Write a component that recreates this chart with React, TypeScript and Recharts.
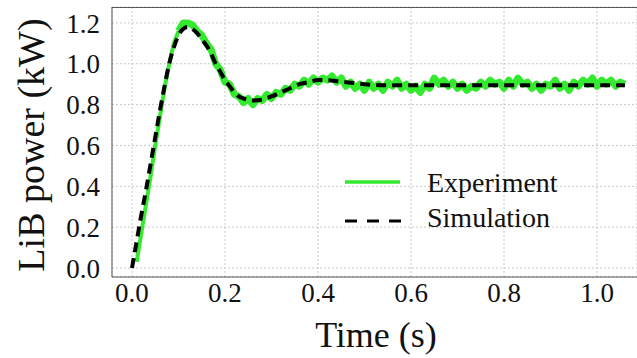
import React from 'react';
import { LineChart, Line, XAxis, YAxis, CartesianGrid } from 'recharts';

const xTicks = [0, 0.2, 0.4, 0.6, 0.8, 1.0];
const yTicks = [0, 0.2, 0.4, 0.6, 0.8, 1.0, 1.2];

const simTime = [
  0, 0.01, 0.02, 0.03, 0.04, 0.05, 0.06, 0.07, 0.08, 0.09, 0.1, 0.11, 0.12, 0.13, 0.14, 0.15, 0.16, 0.17,
  0.18, 0.19, 0.2, 0.21, 0.22, 0.23, 0.24, 0.26, 0.28, 0.3, 0.32, 0.34, 0.36, 0.38, 0.4, 0.42, 0.44, 0.46,
  0.48, 0.5, 0.55, 0.6, 0.65, 0.7, 0.75, 0.8, 0.85, 0.9, 0.95, 1.0, 1.06,
];
const simPower = [
  0, 0.13, 0.26, 0.38, 0.51, 0.64, 0.77, 0.89, 1.0, 1.08, 1.14, 1.17, 1.18, 1.17, 1.15, 1.12, 1.09, 1.05,
  1.0, 0.96, 0.92, 0.89, 0.86, 0.84, 0.83, 0.82, 0.825, 0.84, 0.86, 0.88, 0.9, 0.91, 0.92, 0.92, 0.915, 0.91,
  0.905, 0.9, 0.895, 0.895, 0.895, 0.895, 0.895, 0.895, 0.895, 0.895, 0.895, 0.895, 0.895,
];

const expTime = [
  0.01, 0.02, 0.03, 0.04, 0.05, 0.06, 0.07, 0.08, 0.09, 0.1, 0.11, 0.12, 0.13, 0.14, 0.15, 0.16, 0.17, 0.18,
  0.19, 0.2, 0.21, 0.22, 0.23, 0.24, 0.25, 0.26, 0.27, 0.28, 0.29, 0.3, 0.31, 0.32, 0.33, 0.34, 0.35, 0.36,
  0.37, 0.38, 0.39, 0.4, 0.41, 0.42, 0.43, 0.44, 0.45, 0.46, 0.47, 0.48, 0.49, 0.5, 0.51, 0.52, 0.53, 0.54,
  0.55, 0.56, 0.57, 0.58, 0.59, 0.6, 0.61, 0.62, 0.63, 0.64, 0.65, 0.66, 0.67, 0.68, 0.69, 0.7, 0.71, 0.72,
  0.73, 0.74, 0.75, 0.76, 0.77, 0.78, 0.79, 0.8, 0.81, 0.82, 0.83, 0.84, 0.85, 0.86, 0.87, 0.88, 0.89, 0.9,
  0.91, 0.92, 0.93, 0.94, 0.95, 0.96, 0.97, 0.98, 0.99, 1.0, 1.01, 1.02, 1.03, 1.04, 1.05, 1.06,
];
const expPower = [
  0.03, 0.17, 0.31, 0.45, 0.6, 0.74, 0.88, 1.0, 1.1, 1.16, 1.2, 1.2, 1.19, 1.16, 1.14, 1.1, 1.07, 1.0,
  0.97, 0.91, 0.9, 0.85, 0.84, 0.81, 0.83, 0.8, 0.83, 0.82, 0.85, 0.83, 0.86, 0.85, 0.88, 0.87, 0.9, 0.89,
  0.92, 0.9, 0.93, 0.91, 0.93, 0.92, 0.94, 0.91, 0.93, 0.89, 0.91, 0.88, 0.9, 0.87, 0.91, 0.88, 0.9, 0.87,
  0.91, 0.89, 0.92, 0.88, 0.9, 0.87, 0.89, 0.86, 0.9, 0.88, 0.93, 0.9, 0.92, 0.89, 0.91, 0.88, 0.9, 0.87,
  0.89, 0.88, 0.91, 0.89, 0.92, 0.9, 0.91, 0.88, 0.92, 0.89, 0.93, 0.9, 0.91, 0.88, 0.9, 0.87, 0.9, 0.89,
  0.92, 0.88, 0.9, 0.87, 0.91, 0.89, 0.92, 0.9, 0.93, 0.89, 0.92, 0.9, 0.92, 0.89, 0.91, 0.9,
];

const simData = simTime.map((t, i) => ({ t, v: simPower[i] }));
const expData = expTime.map((t, i) => ({ t, v: expPower[i] }));
// rise part is clean, the rest is noisy (drawn thicker)
const expRise = expData.slice(0, 10);
const expNoisy = expData.slice(9);

const X_MIN = -0.043;
const X_MAX = 1.086;
const Y_MIN = -0.044;
const Y_MAX = 1.278;

const font = "'Liberation Serif', 'Times New Roman', serif";
const green = '#33ea2e';
const tickFont = { fill: '#111', fontSize: 27, fontFamily: font };

export default function App() {
  return (
    <div
      style={{
        position: 'absolute', left: 0, top: 0, width: 637, height: 358, background: '#fff',
        fontFamily: font, fontSize: 27,
      }}
    >
      <LineChart width={637} height={358} margin={{ top: 7, right: 0, left: 0, bottom: 0 }}>
        <CartesianGrid stroke="#c8c8c8" strokeDasharray="2 2" />
        <XAxis
          type="number"
          dataKey="t"
          domain={[X_MIN, X_MAX]}
          ticks={xTicks}
          allowDataOverflow
          height={81}
          tickLine={false}
          tickMargin={0}
          stroke="#555"
          tick={tickFont}
          tickFormatter={(v: number) => v.toFixed(1)}
        />
        <YAxis
          type="number"
          domain={[Y_MIN, Y_MAX]}
          ticks={yTicks}
          allowDataOverflow
          width={112}
          tickLine={false}
          tickMargin={6}
          stroke="#555"
          tick={tickFont}
          tickFormatter={(v: number) => v.toFixed(1)}
        />
        <Line data={expRise} dataKey="v" type="linear" stroke={green} strokeWidth={4} dot={false} isAnimationActive={false} />
        <Line data={expNoisy} dataKey="v" type="linear" stroke={green} strokeWidth={7} strokeLinejoin="round" dot={false} isAnimationActive={false} />
        <Line data={simData} dataKey="v" type="monotone" stroke="#000" strokeWidth={4} strokeDasharray="10 6" dot={false} isAnimationActive={false} />
      </LineChart>
      <svg style={{ position: 'absolute', left: 0, top: 0 }} width={637} height={358} pointerEvents="none">
        <line x1={112} x2={637} y1={7.5} y2={7.5} stroke="#555" />
        <text x={376} y={347} textAnchor="middle" fontFamily={font} fontSize={36} fill="#111">Time (s)</text>
        <text x={44} y={145} textAnchor="middle" transform="rotate(-90 44 145)" fontFamily={font} fontSize={38} fill="#111">LiB power (kW)</text>
        <line x1={345} x2={400} y1={182} y2={182} stroke={green} strokeWidth={3.5} />
        <text x={427} y={192} fontFamily={font} fontSize={28} fill="#111">Experiment</text>
        <line x1={345} x2={401} y1={221} y2={221} stroke="#000" strokeWidth={3} strokeDasharray="12 10" />
        <text x={427} y={227} fontFamily={font} fontSize={28} fill="#111">Simulation</text>
      </svg>
    </div>
  );
}
